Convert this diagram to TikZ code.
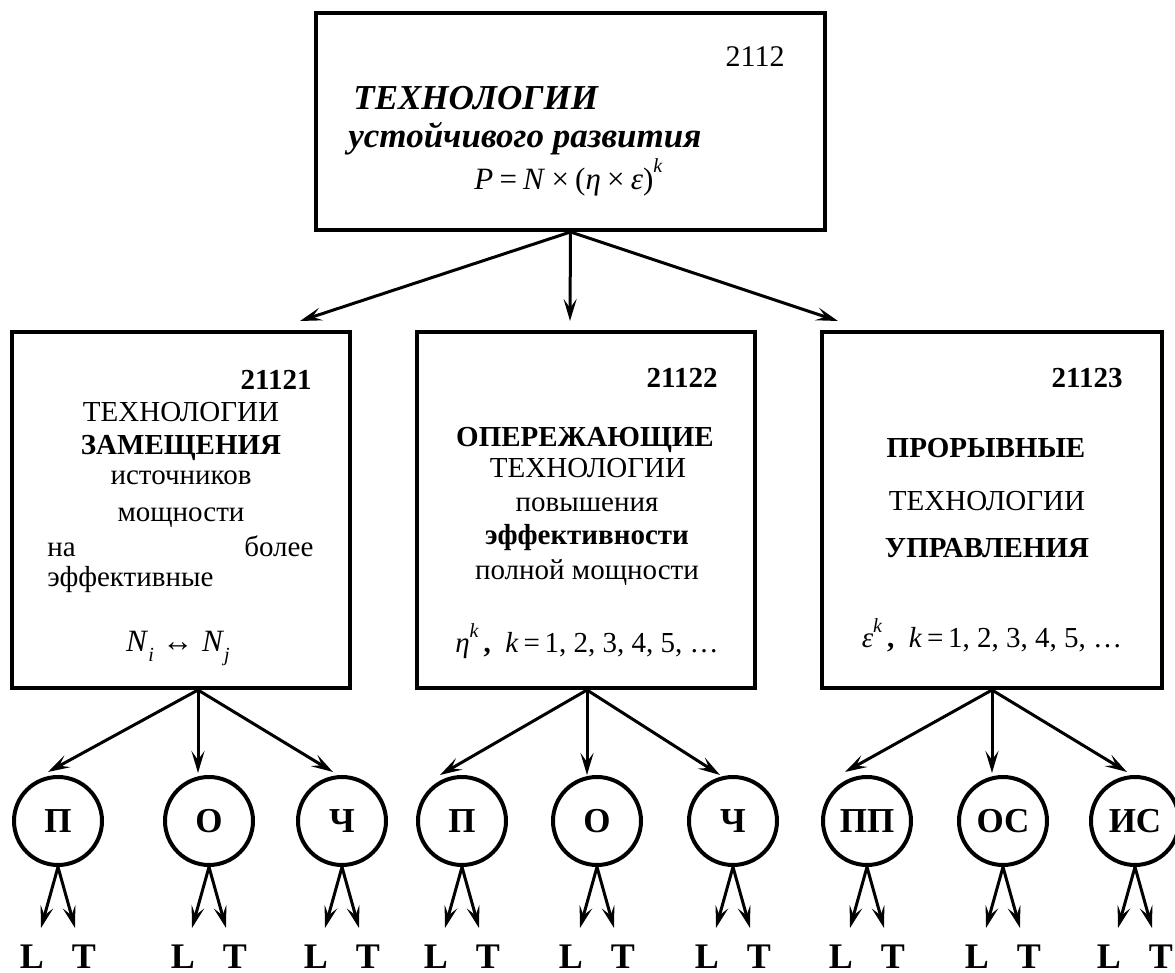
\documentclass[tikz,border=0pt]{standalone}
\usepackage{fontspec}
\setmainfont{Liberation Serif}
\usetikzlibrary{arrows.meta,calc}

% superscript / subscript helpers for the formulas
\newcommand\supit[1]{\raisebox{0.55em}{\fontsize{10}{10}\selectfont\textit{#1}}}
\newcommand\subit[1]{\raisebox{-0.3em}{\fontsize{10}{10}\selectfont\textit{#1}}}
\newcommand\opsp{\hspace{0.2em}}

\begin{document}
\begin{tikzpicture}[x=0.5pt,y=-0.5pt,
  box/.style={draw,line width=2pt,inner sep=0pt,minimum width=169pt,minimum height=178pt},
  topbox/.style={draw,line width=2pt,inner sep=0pt,minimum width=254.5pt,minimum height=108.5pt},
  knot/.style={draw,circle,line width=2pt,inner sep=0pt,minimum size=44pt,
    font=\fontsize{17.5}{19}\selectfont\bfseries},
  arr/.style={line width=1.5pt,-{Stealth[length=11pt,width=6.5pt,inset=4.5pt]}},
  txt/.style={inner sep=0pt,anchor=base,font=\fontsize{14.5}{17}\selectfont},
  btxt/.style={txt,font=\fontsize{14.5}{17}\selectfont\bfseries},
  num/.style={inner sep=0pt,anchor=base east,font=\fontsize{14.5}{17}\selectfont\bfseries},
  ttl/.style={inner sep=0pt,anchor=base west,font=\fontsize{17.5}{20}\selectfont\bfseries\itshape},
  leaf/.style={inner sep=0pt,anchor=base,font=\fontsize{18}{20}\selectfont\bfseries}]

\useasboundingbox (0,0) rectangle (1175,973);

% ---- top block
\node[topbox] (top) at (570.5,121.5) {};
\node[inner sep=0pt,anchor=base east,font=\fontsize{15}{17}\selectfont] (topnum) at (785,67) {2112};
\node[ttl] (toptitle) at (353,110) {ТЕХНОЛОГИИ};
\node[ttl] (topsub) at (348,148) {устойчивого развития};
\node[inner sep=0pt,anchor=base west,font=\fontsize{15.5}{18}\selectfont] (topformula) at (474,190)
  {\textit{P}\opsp=\opsp\textit{N}\opsp×\opsp(\textit{η}\opsp×\opsp\textit{ε})\supit{k}};

% ---- second level blocks
\node[box] (b1) at (181,510) {};
\node[box] (b2) at (586,510) {};
\node[box,minimum width=170pt] (b3) at (992,510) {};

% block 21121
\node[num] (n1) at (312,390) {21121};
\node[txt] (b1a) at (181,422) {ТЕХНОЛОГИИ};
\node[btxt] (b1b) at (181,455) {ЗАМЕЩЕНИЯ};
\node[txt] (b1c) at (181,485) {источников};
\node[txt] (b1d) at (181,522) {мощности};
\node[txt,anchor=base west] (b1e) at (47,557) {\hbox to 133pt{на\hfill более}};
\node[txt,anchor=base west] (b1f) at (47,587) {эффективные};
\node[txt,font=\fontsize{15.5}{18}\selectfont] (b1g) at (178,652) {\textit{N}\subit{i}\;↔\;\textit{N}\subit{j}};

% block 21122
\node[num] (n2) at (718,388) {21122};
\node[btxt] (b2a) at (585,447) {ОПЕРЕЖАЮЩИЕ};
\node[txt] (b2b) at (588,478) {ТЕХНОЛОГИИ};
\node[txt] (b2c) at (587,512) {повышения};
\node[btxt] (b2d) at (587,545) {эффективности};
\node[txt] (b2e) at (587,580) {полной мощности};
\node[txt] (b2f) at (587,653) {\textit{η}\supit{k}\,\textbf{,}\enspace\textit{k}\,=\,1, 2, 3, 4, 5, …};

% block 21123
\node[num] (n3) at (1123,388) {21123};
\node[btxt] (b3a) at (986,458) {ПРОРЫВНЫЕ};
\node[txt] (b3b) at (987,511) {ТЕХНОЛОГИИ};
\node[btxt] (b3c) at (987,558) {УПРАВЛЕНИЯ};
\node[txt] (b3f) at (992,648) {\textit{ε}\supit{k}\,\textbf{,}\enspace\textit{k}\,=\,1, 2, 3, 4, 5, …};

% top block to second level
\draw[arr] (top.south) -- ($(b1.north)+(119,-9)$);
\draw[arr] (top.south) -- ($(b2.north)+(-16,-9)$);
\draw[arr] (top.south) -- ($(b3.north)+(-154,-9)$);

% ---- third level circles
\node[knot] (c11) at (58,821)  {П};
\node[knot] (c12) at (209,821) {О};
\node[knot] (c13) at (342,821) {Ч};
\node[knot] (c21) at (462,821) {П};
\node[knot] (c22) at (597,821) {О};
\node[knot] (c23) at (733,821) {Ч};
\node[knot] (c31) at (867,821) {ПП};
\node[knot] (c32) at (1003,821) {ОС};
\node[knot] (c33) at (1135,821) {ИС};

% second level to circles
\coordinate (s1) at ($(b1.south)+(17,0)$);
\coordinate (s2) at ($(b2.south)+(1,0)$);
\coordinate (s3) at (b3.south);
\draw[arr] (s1) -- ($(c11.north)+(-10,-3)$);
\draw[arr] (s1) -- ($(c12.north)+(-11,-2)$);
\draw[arr] (s1) -- ($(c13.north)+(-9,-3)$);
\draw[arr] (s2) -- ($(c21.north)+(-22,0)$);
\draw[arr] (s2) -- ($(c22.north)+(-10,0)$);
\draw[arr] (s2) -- ($(c23.north)+(-13,0)$);
\draw[arr] (s3) -- ($(c31.north)+(-22,-3)$);
\draw[arr] (s3) -- ($(c32.north)+(-11,-2)$);
\draw[arr] (s3) -- ($(c33.north)+(-8,-3)$);

% circles to L / T
\foreach \c in {c11,c12,c13,c21,c22,c23,c31,c32,c33}{
  \coordinate (\c-l) at ($(\c.south)+(-17,61)$);
  \coordinate (\c-t) at ($(\c.south)+(17,61)$);
  \draw[arr] (\c.south) -- (\c-l);
  \draw[arr] (\c.south) -- (\c-t);
  \node[leaf] (\c-L) at ($(\c.center)+(-26,147)$) {L};
  \node[leaf] (\c-T) at ($(\c.center)+(26,147)$) {T};
}
\end{tikzpicture}
\end{document}
